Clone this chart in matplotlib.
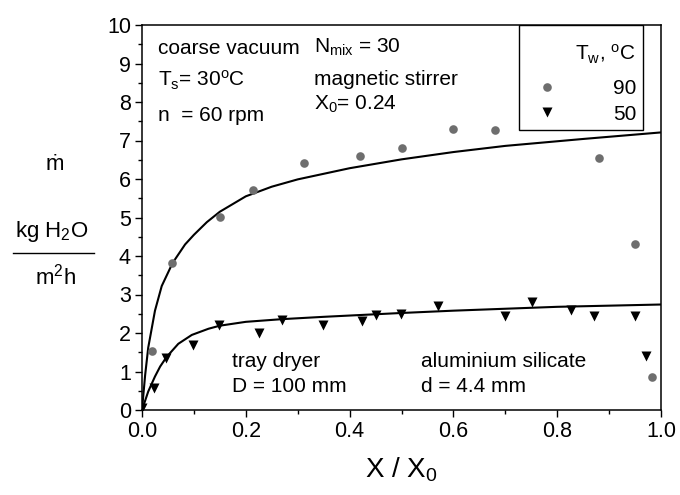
import matplotlib
matplotlib.use("Agg")
import matplotlib.pyplot as plt
from matplotlib.lines import Line2D
from matplotlib.patches import Rectangle
from matplotlib.ticker import MultipleLocator, FormatStrFormatter

plt.rcParams['font.family'] = ['Liberation Sans', 'DejaVu Sans']
plt.rcParams['mathtext.fontset'] = 'custom'
plt.rcParams['mathtext.rm'] = 'Liberation Sans'
plt.rcParams['mathtext.it'] = 'Liberation Sans'
plt.rcParams['mathtext.bf'] = 'Liberation Sans:bold'

# measured points, Tw = 90 C
x_90 = [0.02, 0.058, 0.15, 0.213, 0.313, 0.42, 0.50, 0.60, 0.68, 0.88, 0.95, 0.982]
y_90 = [1.52, 3.82, 5.01, 5.71, 6.41, 6.61, 6.80, 7.30, 7.27, 6.55, 4.31, 0.87]

# measured points, Tw = 50 C
x_50 = [0.0, 0.024, 0.046, 0.099, 0.149, 0.225, 0.269, 0.349, 0.424, 0.45,
        0.499, 0.57, 0.70, 0.752, 0.826, 0.871, 0.95, 0.971]
y_50 = [0.06, 0.58, 1.36, 1.70, 2.20, 2.01, 2.35, 2.22, 2.31, 2.47,
        2.49, 2.70, 2.45, 2.81, 2.61, 2.45, 2.45, 1.40]

# fitted curves
xc_90 = [0.0, 0.006, 0.012, 0.025, 0.038, 0.059, 0.083, 0.1, 0.125, 0.15, 0.2,
         0.25, 0.3, 0.4, 0.5, 0.6, 0.7, 0.85, 1.0]
yc_90 = [0.0, 0.9, 1.62, 2.58, 3.22, 3.82, 4.30, 4.55, 4.88, 5.15, 5.55,
         5.80, 5.99, 6.28, 6.51, 6.70, 6.86, 7.04, 7.21]
xc_50 = [0.0, 0.012, 0.025, 0.035, 0.0475, 0.07, 0.096, 0.128, 0.15, 0.2, 0.27,
         0.35, 0.5, 0.6, 0.7, 0.8, 0.9, 1.0]
yc_50 = [0.0, 0.48, 0.87, 1.13, 1.38, 1.72, 1.95, 2.11, 2.19, 2.29, 2.36,
         2.42, 2.52, 2.58, 2.63, 2.68, 2.71, 2.74]

fig = plt.figure(figsize=(6.8, 4.95), dpi=100)
ax = fig.add_axes([142 / 680, 1 - 410 / 495, 519 / 680, 385 / 495])

ax.plot(xc_90, yc_90, color='black', lw=1.5)
ax.plot(xc_50, yc_50, color='black', lw=1.5)
ax.plot(x_90, y_90, 'o', color='#6e6e6e', ms=6.2, mec='none', label='90')
ax.plot(x_50, y_50, 'v', color='black', ms=7, mec='none', label='50')

ax.set_xlim(0, 1.0)
ax.set_ylim(0, 10)
ax.xaxis.set_major_locator(MultipleLocator(0.2))
ax.xaxis.set_minor_locator(MultipleLocator(0.1))
ax.xaxis.set_major_formatter(FormatStrFormatter('%.1f'))
ax.yaxis.set_major_locator(MultipleLocator(1))
ax.yaxis.set_minor_locator(MultipleLocator(0.5))
ax.tick_params(which='major', direction='out', length=5, width=1, labelsize=15.5, pad=3)
ax.tick_params(which='minor', direction='out', length=3, width=1)
for s in ax.spines.values():
    s.set_linewidth(1.1)

ax.set_xlabel('X / X$_\\mathrm{0}$', fontsize=20, labelpad=10)

# annotations
fs = 15
ax.text(0.031, 0.925, 'coarse vacuum', fontsize=fs, transform=ax.transAxes, va='baseline')
ax.text(0.031, 0.840, 'T$_\\mathrm{s}$= 30$^\\mathrm{o}$C', fontsize=fs, transform=ax.transAxes, va='baseline')
ax.text(0.031, 0.751, 'n  = 60 rpm', fontsize=fs, transform=ax.transAxes, va='baseline')
ax.text(0.332, 0.927, 'N$_\\mathrm{mix}$ = 30', fontsize=fs, transform=ax.transAxes, va='baseline')
ax.text(0.332, 0.844, 'magnetic stirrer', fontsize=fs, transform=ax.transAxes, va='baseline')
ax.text(0.332, 0.779, 'X$_\\mathrm{0}$= 0.24', fontsize=fs, transform=ax.transAxes, va='baseline')
ax.text(0.173, 0.1125, 'tray dryer', fontsize=fs, transform=ax.transAxes, va='baseline')
ax.text(0.173, 0.0475, 'D = 100 mm', fontsize=fs, transform=ax.transAxes, va='baseline')
ax.text(0.537, 0.1125, 'aluminium silicate', fontsize=fs, transform=ax.transAxes, va='baseline')
ax.text(0.537, 0.0475, 'd = 4.4 mm', fontsize=fs, transform=ax.transAxes, va='baseline')

# legend: frame and title drawn separately, entries by ax.legend
ax.add_patch(Rectangle((0.966, 1.0), -124 / 519, -105 / 385, transform=ax.transAxes,
                       fill=True, facecolor='white', edgecolor='black', lw=1.0, zorder=4))
ax.text(0.952, (410 - 60) / 385, 'T$_\\mathrm{w}$, $^\\mathrm{o}$C', fontsize=15,
        transform=ax.transAxes, ha='right', va='baseline', zorder=5)
leg = ax.legend(loc='upper right', bbox_to_anchor=(0.966, (410 - 72) / 385), borderaxespad=0,
                fontsize=15, frameon=False, handlelength=1.9, handletextpad=2.2,
                borderpad=0.35, labelspacing=0.3)
leg.set_zorder(6)

# y label as a fraction
fig.text(55 / 680, 1 - 165 / 495, 'ṁ', fontsize=16, ha='center', va='center')
fig.text(52 / 680, 1 - 232 / 495, 'kg H$_\\mathrm{2}$O', fontsize=16, ha='center', va='center')
fig.text(55 / 680, 1 - 277 / 495, 'm$^\\mathrm{2}$h', fontsize=16, ha='center', va='center')
fig.add_artist(Line2D([13 / 680, 94 / 680], [1 - 253 / 495, 1 - 253 / 495],
                      color='black', lw=1.0, transform=fig.transFigure))

fig.savefig('out.png', dpi=100)
